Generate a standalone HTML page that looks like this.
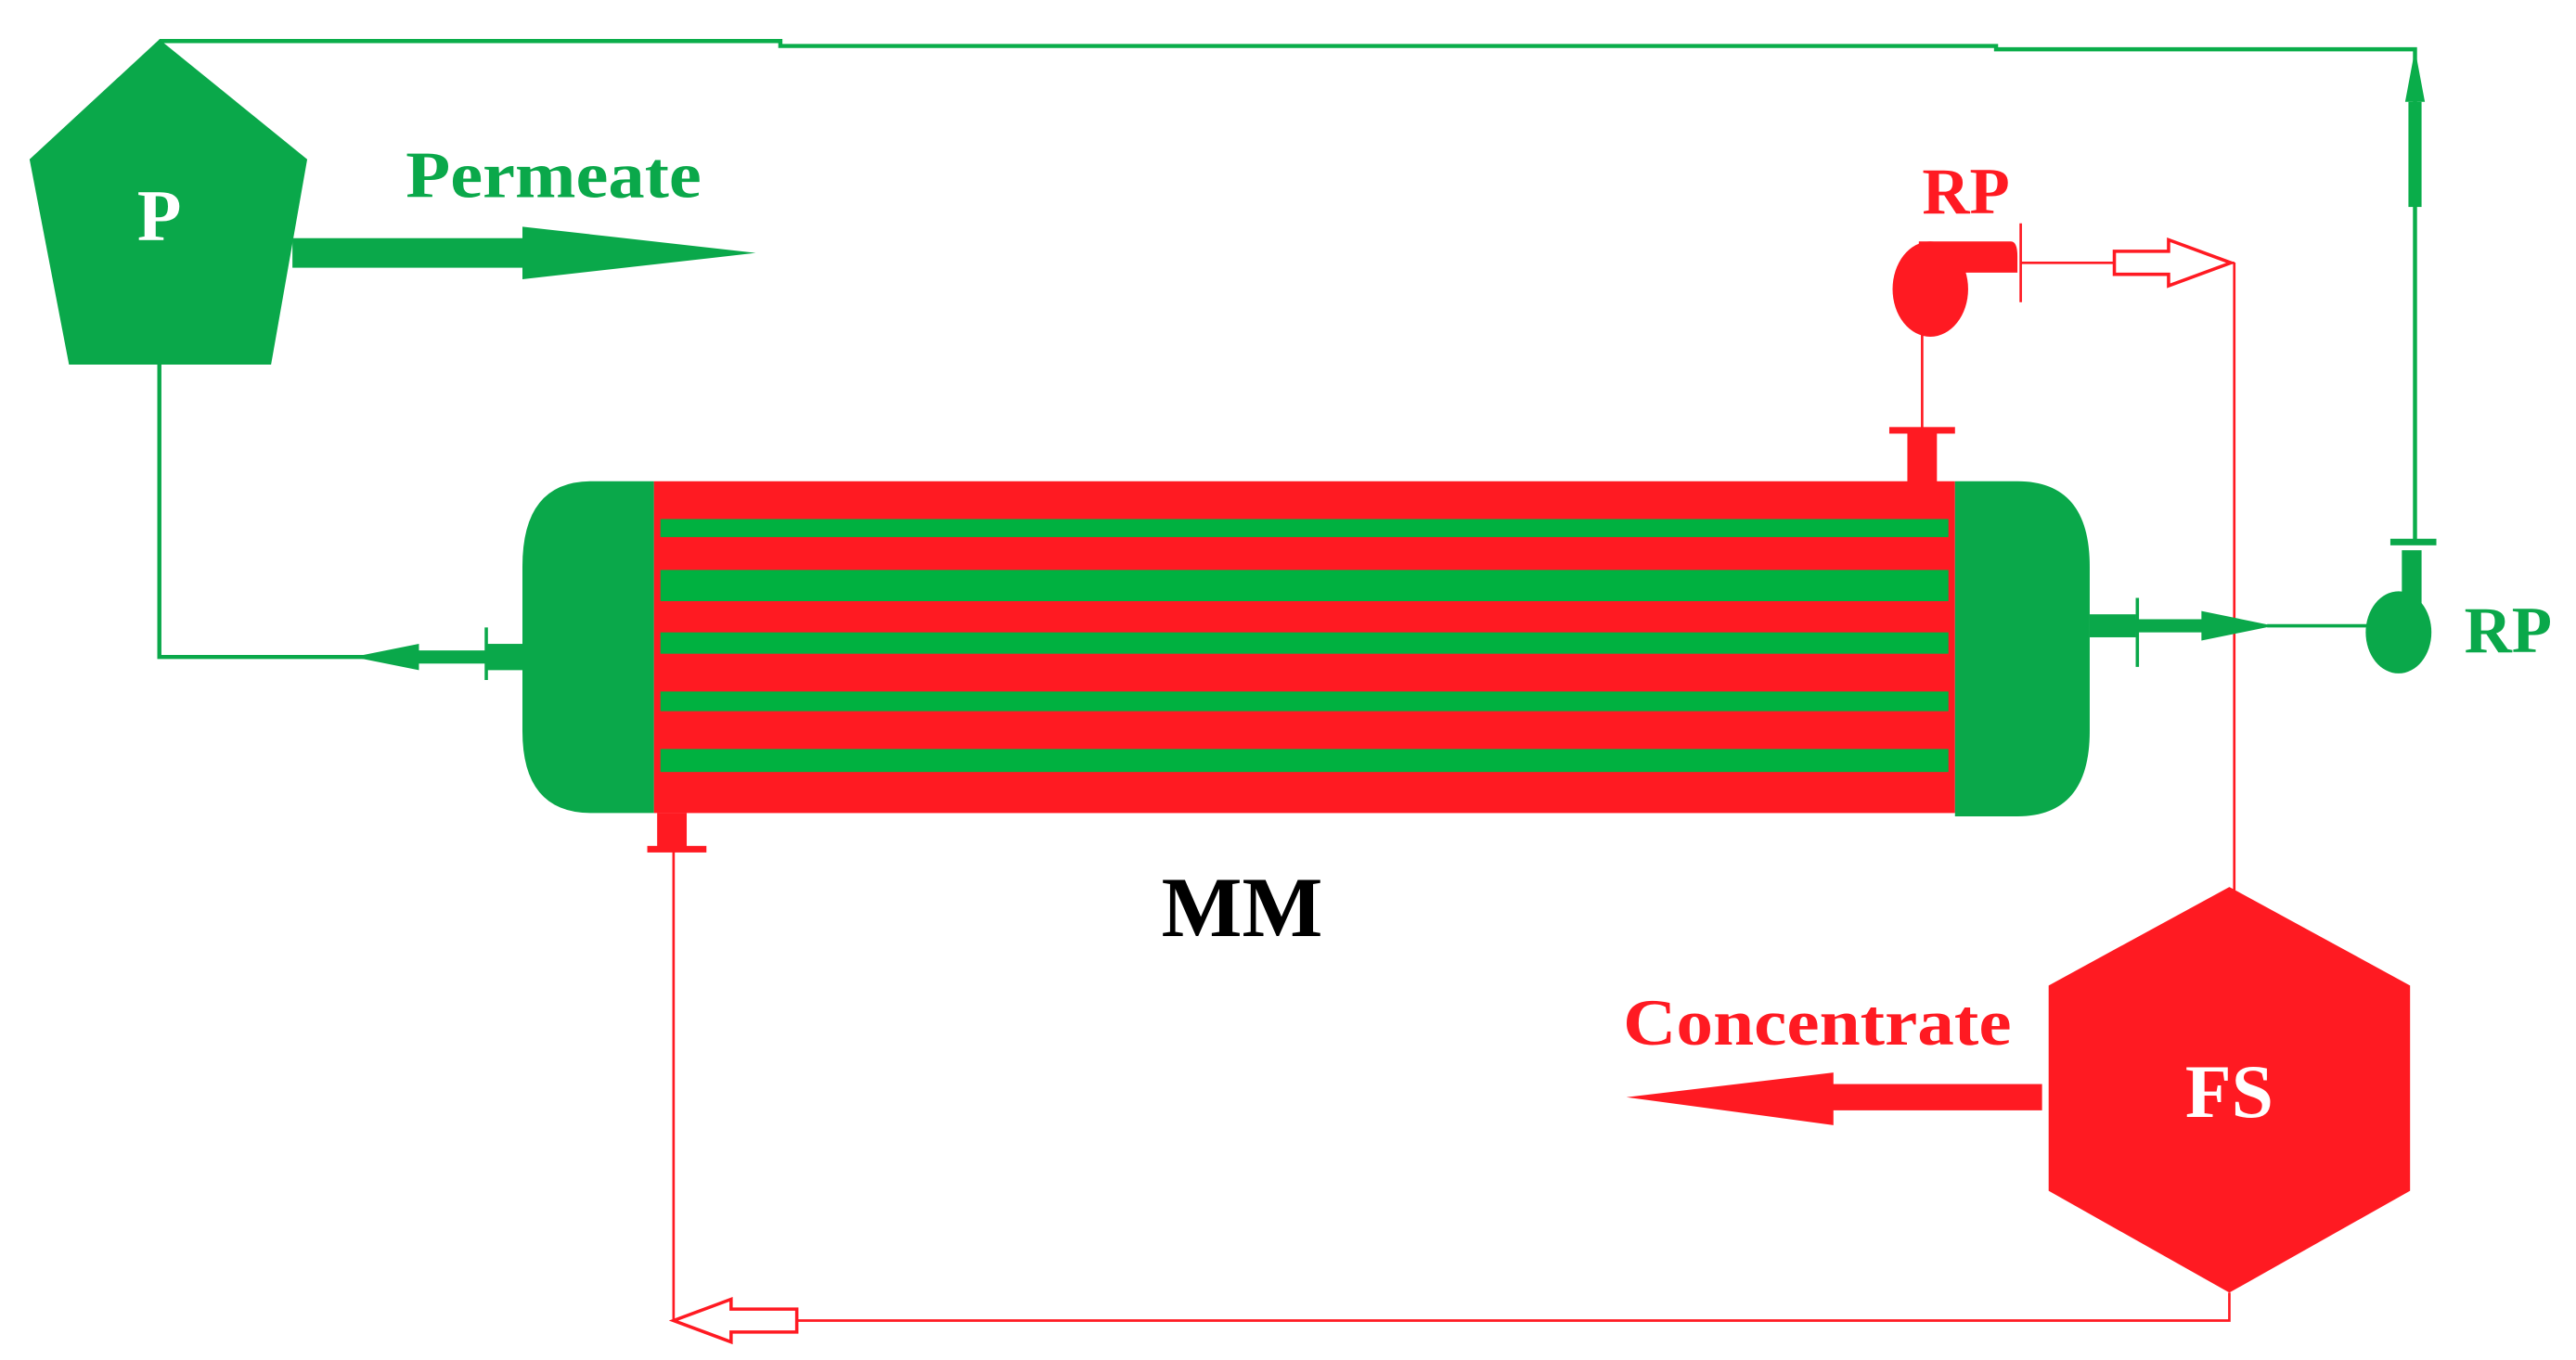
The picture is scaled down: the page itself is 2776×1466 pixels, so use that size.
<!DOCTYPE html>
<html><head><meta charset="utf-8"><style>
html,body{margin:0;padding:0;background:#fff;}
svg{display:block;}
</style></head><body>
<svg width="2776" height="1466" viewBox="0 0 1568 828" preserveAspectRatio="none" xmlns="http://www.w3.org/2000/svg" font-family="Liberation Serif, serif" font-weight="bold">
<polyline points="97,25 475,25 475,28 1215,28 1215,30 1470,30 1470,330" fill="none" stroke="#0aad4a" stroke-width="2.5"/>
<rect x="1466" y="62" width="8" height="64" fill="#0aad4a"/>
<polygon points="1470,30 1464,62 1476,62" fill="#0aad4a"/>
<polygon points="97,24 187,97 165,222 42,222 18,97" fill="#0aa84a"/>
<text x="97" y="146" fill="#fff" font-size="44" text-anchor="middle">P</text>
<rect x="178" y="145" width="145" height="18" fill="#0aa84a"/>
<polygon points="318,138 460,154 318,170" fill="#0aa84a"/>
<text transform="translate(247,120) scale(1.11,1)" fill="#0aa84a" font-size="40">Permeate</text>
<polyline points="97,222 97,400 300,400" fill="none" stroke="#0aa84a" stroke-width="2.5"/>
<polygon points="215,400 255,392 255,408" fill="#0aa84a"/>
<rect x="240" y="396" width="60" height="8" fill="#0aa84a"/>
<line x1="296" y1="382" x2="296" y2="414" stroke="#0aa84a" stroke-width="2"/>
<rect x="296" y="392" width="24" height="16" fill="#0aa84a"/>
<rect x="398" y="293" width="792" height="202" fill="#ff1a22"/>
<g fill="#00b140">
<rect x="402" y="316" width="784" height="11"/>
<rect x="402" y="347" width="784" height="19"/>
<rect x="402" y="385" width="784" height="13"/>
<rect x="402" y="421" width="784" height="12"/>
<rect x="402" y="456" width="784" height="14"/>
</g>
<path d="M398,293 L360,293 Q318,293 318,345 L318,445 Q318,495 360,495 L398,495 Z" fill="#0aa84a"/>
<path d="M1190,293 L1228,293 Q1272,293 1272,345 L1272,445 Q1272,497 1228,497 L1190,497 Z" fill="#0aa84a"/>
<rect x="1161" y="262" width="18" height="32" fill="#ff1a22"/>
<rect x="1150" y="260" width="40" height="4" fill="#ff1a22"/>
<line x1="1170" y1="262" x2="1170" y2="200" stroke="#ff1a22" stroke-width="1.5"/>
<ellipse cx="1175" cy="176" rx="23" ry="29" fill="#ff1a22"/>
<path d="M1168,147 L1224,147 Q1228,147 1228,156 L1228,166 L1190,166 L1190,185 L1168,185 Z" fill="#ff1a22"/>
<line x1="1230" y1="136" x2="1230" y2="184" stroke="#ff1a22" stroke-width="1.5"/>
<text x="1170" y="130" fill="#ff1a22" font-size="40">RP</text>
<line x1="1230" y1="160" x2="1360" y2="160" stroke="#ff1a22" stroke-width="1.5"/>
<path d="M1287,153 L1320,153 L1320,146 L1358,160 L1320,174 L1320,167 L1287,167 Z" fill="#fff" stroke="#ff1a22" stroke-width="2"/>
<line x1="1360" y1="160" x2="1360" y2="542" stroke="#ff1a22" stroke-width="1.5"/>
<rect x="1272" y="374" width="28" height="14" fill="#0aa84a"/>
<line x1="1301" y1="364" x2="1301" y2="406" stroke="#0aa84a" stroke-width="2"/>
<rect x="1300" y="377" width="50" height="8" fill="#0aa84a"/>
<polygon points="1340,372 1384,381 1340,390" fill="#0aa84a"/>
<line x1="1380" y1="381" x2="1445" y2="381" stroke="#0aa84a" stroke-width="2"/>
<ellipse cx="1460" cy="385" rx="20" ry="25" fill="#0aa84a"/>
<rect x="1462" y="335" width="12" height="40" fill="#0aa84a"/>
<rect x="1455" y="328" width="28" height="4" fill="#0aa84a"/>
<text x="1500" y="397" fill="#0aa84a" font-size="40">RP</text>
<polygon points="1357,540 1467,600 1467,725 1357,787 1247,725 1247,600" fill="#ff1a22"/>
<text x="1357" y="680" fill="#fff" font-size="46" text-anchor="middle">FS</text>
<rect x="1110" y="660" width="133" height="16" fill="#ff1a22"/>
<polygon points="1116,653 990,668 1116,685" fill="#ff1a22"/>
<text transform="translate(988,636) scale(1.12,1)" fill="#ff1a22" font-size="40">Concentrate</text>
<polyline points="1357,787 1357,804 410,804 410,518" fill="none" stroke="#ff1a22" stroke-width="1.5"/>
<path d="M485,797 L445,797 L445,791 L410,804 L445,817 L445,811 L485,811 Z" fill="#fff" stroke="#ff1a22" stroke-width="2"/>
<rect x="400" y="495" width="18" height="22" fill="#ff1a22"/>
<rect x="394" y="515" width="36" height="4" fill="#ff1a22"/>
<text x="707" y="570" fill="#000" font-size="52">MM</text>
</svg>
</body></html>
